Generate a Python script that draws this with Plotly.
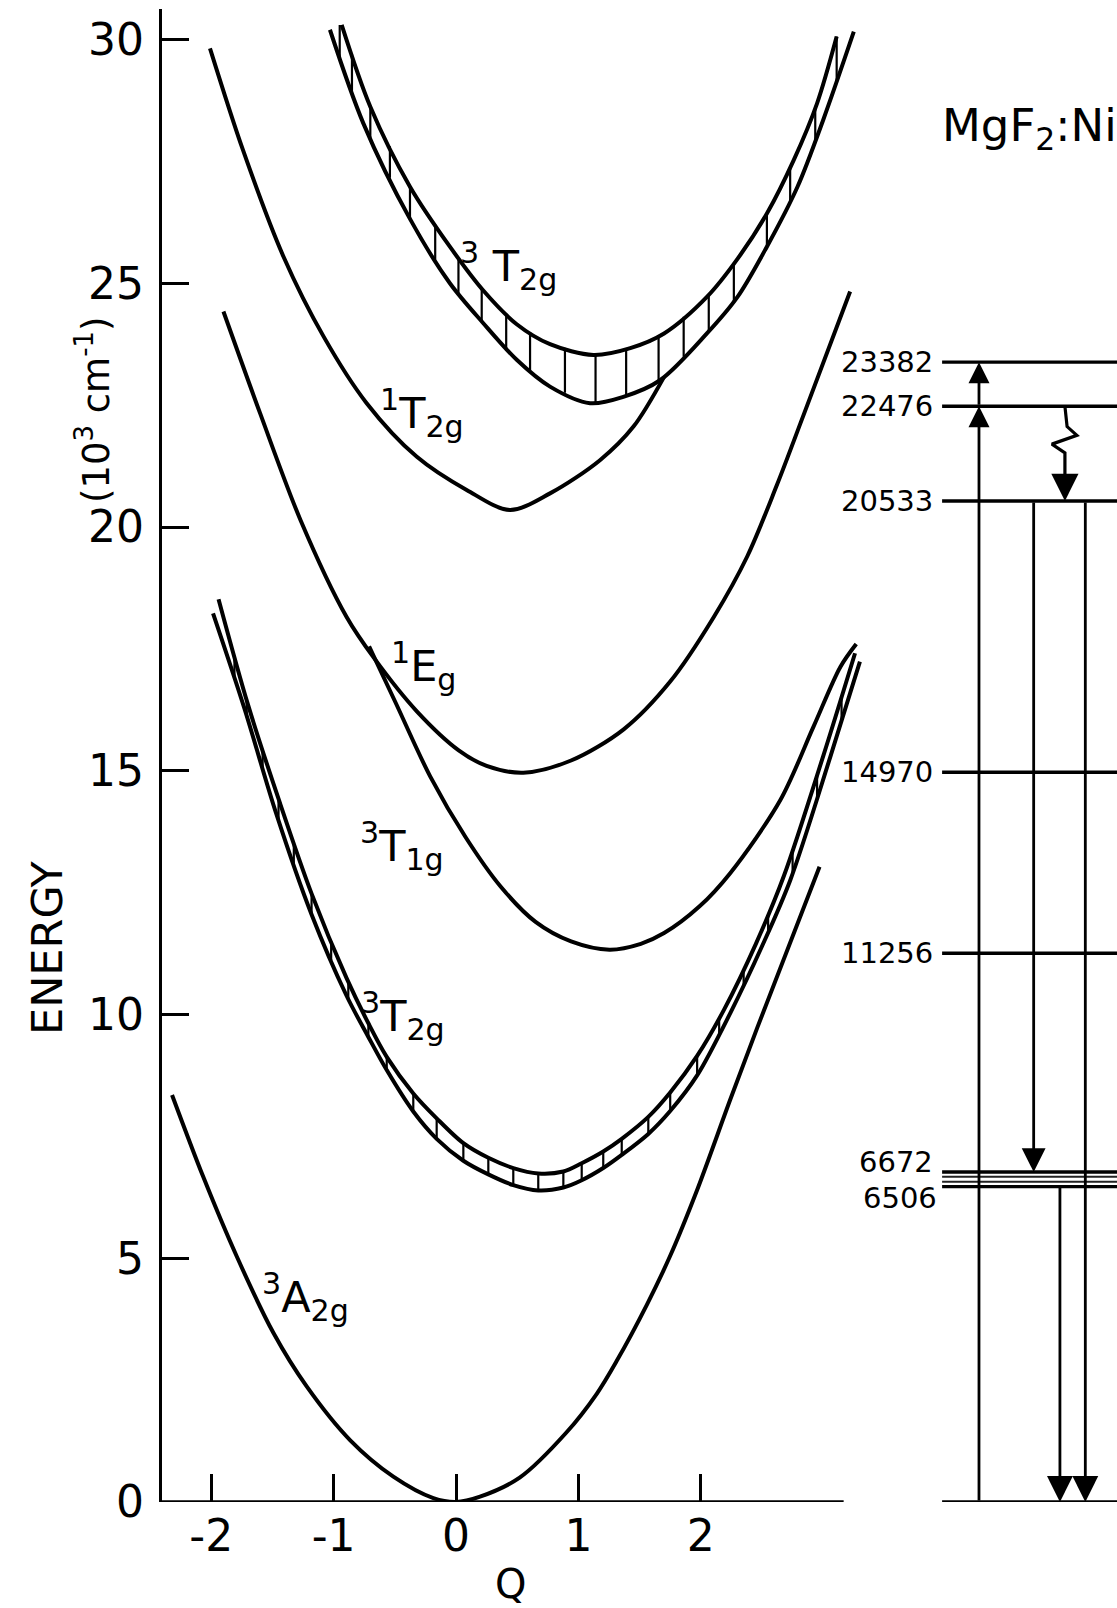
import numpy as np
import plotly.graph_objects as go

FONT = "DejaVu Sans"

# ---------------- data ----------------
q_tick_vals = [-2, -1, 0, 1, 2]
q_tick_text = ["-2", "-1", "0", "1", "2"]
e_tick_vals = [0, 5, 10, 15, 20, 25, 30]
e_tick_text = ["0", "5", "10", "15", "20", "25", "30"]
q_axis_end = 3.167          # where the drawn Q axis stops

# 3A2g ground state
a2g_q = [-2.32, -2.065, -1.79, -1.49, -1.22, -0.866, -0.512, -0.185, 0.0, 0.196, 0.52, 0.90,
         1.15, 1.31, 1.56, 1.75, 1.97, 2.24, 2.46, 2.97]
a2g_e = [8.35, 6.67, 5.03, 3.46, 2.37, 1.27, 0.52, 0.08, 0.0, 0.11, 0.50, 1.42,
         2.22, 2.88, 4.05, 5.05, 6.40, 8.25, 9.72, 13.03]

# lower 3T2g band : upper edge / lower edge
t2l_up_q = [-1.94, -1.70, -1.44, -1.18, -0.895, -0.716, -0.566, -0.349, -0.158, 0.06, 0.264, 0.468,
            0.672, 0.877, 1.027, 1.203, 1.354, 1.571, 1.75, 1.97, 2.19, 2.45, 2.68, 3.00, 3.26]
t2l_up_e = [18.52, 16.36, 14.35, 12.48, 10.75, 9.82, 9.13, 8.38, 7.87, 7.36, 7.06, 6.85,
            6.74, 6.78, 6.95, 7.19, 7.45, 7.90, 8.40, 9.15, 10.10, 11.45, 12.85, 15.30, 17.41]
t2l_lo_q = [-1.985, -1.73, -1.47, -1.18, -0.895, -0.716, -0.566, -0.349, -0.158, 0.06, 0.264, 0.468,
            0.672, 0.877, 1.027, 1.203, 1.354, 1.571, 1.75, 1.97, 2.245, 2.50, 2.73, 3.06, 3.30]
t2l_lo_e = [18.23, 16.29, 14.13, 12.05, 10.39, 9.54, 8.86, 8.01, 7.45, 7.00, 6.72, 6.50,
            6.39, 6.45, 6.60, 6.85, 7.12, 7.55, 8.02, 8.75, 10.05, 11.40, 12.75, 15.30, 17.24]
t2l_hatch_q = [-1.81, -1.71, -1.58, -1.45, -1.325, -1.18, -1.02, -0.88, -0.716, -0.566, -0.349,
               -0.158, 0.06, 0.264, 0.468, 0.672, 0.877, 1.027, 1.203, 1.354, 1.571, 1.75, 1.97,
               2.15, 2.35, 2.55, 2.75, 2.95, 3.15]

# 3T1g
t1g_q = [-0.71, -0.494, -0.21, 0.08, 0.366, 0.65, 0.94, 1.254, 1.51, 1.70, 1.99, 2.24, 2.65,
         2.92, 3.14, 3.27]
t1g_e = [17.55, 16.40, 14.88, 13.63, 12.62, 11.90, 11.50, 11.33, 11.45, 11.67, 12.22, 12.90, 14.40,
         15.90, 17.13, 17.60]

# 1Eg
eg_q = [-1.90, -1.60, -1.27, -0.895, -0.666, -0.32, 0.022, 0.25, 0.55, 0.94, 1.37, 1.75, 2.105,
        2.38, 2.62, 2.84, 3.22]
eg_e = [24.42, 22.33, 20.14, 18.16, 17.30, 16.22, 15.42, 15.10, 14.96, 15.21, 15.85, 16.83, 18.15,
        19.40, 20.85, 22.30, 24.83]

# 1T2g
t2s_q = [-2.01, -1.74, -1.41, -1.08, -0.73, -0.32, 0.087, 0.44, 0.768, 1.176, 1.45, 1.70]
t2s_e = [29.82, 27.73, 25.55, 23.90, 22.54, 21.44, 20.76, 20.35, 20.69, 21.37, 22.06, 23.08]

# upper 3T2g band : upper edge / lower edge
t2u_up_q = [-0.934, -0.70, -0.376, -0.05, 0.223, 0.496, 0.768, 1.122, 1.424, 1.70, 2.05, 2.30,
            2.54, 2.76, 2.95, 3.11]
t2u_up_e = [30.30, 28.62, 26.98, 25.75, 24.85, 24.16, 23.75, 23.53, 23.67, 23.97, 24.72, 25.50,
            26.43, 27.53, 28.69, 30.06]
t2u_lo_q = [-1.03, -0.757, -0.376, -0.05, 0.223, 0.496, 0.768, 1.095, 1.367, 1.667, 2.05, 2.30,
            2.54, 2.79, 3.00, 3.25]
t2u_lo_e = [30.20, 28.28, 26.32, 25.00, 24.18, 23.43, 22.88, 22.54, 22.67, 23.01, 23.97, 24.72,
            25.75, 26.98, 28.35, 30.16]
t2u_hatch_q = [-0.95, -0.85, -0.70, -0.54, -0.376, -0.17, 0.02, 0.21, 0.41, 0.605, 0.89, 1.14,
               1.39, 1.655, 1.86, 2.065, 2.27, 2.54, 2.73, 2.935, 3.11]

# energy-level scheme (10^3 cm^-1)
level_labels = ["23382", "22476", "20533", "14970", "11256"]
level_values = [23.382, 22.476, 20.533, 14.970, 11.256]
cluster_lines = [6.77, 6.67, 6.57, 6.47]          # closely spaced 6672 ... 6506 group as drawn
cluster_labels = ["6672", "6506"]
ground_level = 0.0
wavy_e = [22.476, 22.06, 21.88, 21.70, 21.52, 20.75]   # relaxation 22476 -> 20533

# ---------------- figure ----------------
W, H = 1117, 1608
L, T, B = 162, 9, 106
PW, PH = W - L, H - T - B
PXU = 122.4                  # pixels per Q unit
QMIN, QMAX = -2.402, 3.45


def px(X):
    return (X - L) / PW


def py(Y):
    return (H - B - Y) / PH


fig = go.Figure()

CW = 4.0


def curve(q, e, width=CW):
    fig.add_trace(go.Scatter(x=q, y=e, mode="lines", hoverinfo="skip", showlegend=False,
                             line=dict(color="black", width=width, shape="spline", smoothing=0.9)))


def hatch(hq, uq, ue, lq, le):
    xs, ys = [], []
    for q in hq:
        top = float(np.interp(q, uq, ue))
        bot = float(np.interp(q, lq, le))
        xs += [q, q, None]
        ys += [bot, top, None]
    fig.add_trace(go.Scatter(x=xs, y=ys, mode="lines", hoverinfo="skip", showlegend=False,
                             line=dict(color="black", width=2.2)))


curve(a2g_q, a2g_e)
curve(t2l_up_q, t2l_up_e)
curve(t2l_lo_q, t2l_lo_e)
hatch(t2l_hatch_q, t2l_up_q, t2l_up_e, t2l_lo_q, t2l_lo_e)
curve(t1g_q, t1g_e)
curve(eg_q, eg_e)
curve(t2s_q, t2s_e)
curve(t2u_up_q, t2u_up_e)
curve(t2u_lo_q, t2u_lo_e)
hatch(t2u_hatch_q, t2u_up_q, t2u_up_e, t2u_lo_q, t2u_lo_e)

# level lines on the right-hand scheme (x2 axis: 0..1 across the scheme)
LX0, LX1 = 0.194, 1.0
xs, ys = [], []
for v in level_values + [cluster_lines[0], cluster_lines[-1], ground_level]:
    xs += [LX0, LX1, None]
    ys += [v, v, None]
fig.add_trace(go.Scatter(x=xs, y=ys, xaxis="x2", yaxis="y", mode="lines", hoverinfo="skip",
                         showlegend=False, line=dict(color="black", width=3.4)))
xs, ys = [], []
for v in cluster_lines[1:-1]:
    xs += [LX0, LX1, None]
    ys += [v, v, None]
fig.add_trace(go.Scatter(x=xs, y=ys, xaxis="x2", yaxis="y", mode="lines", hoverinfo="skip",
                         showlegend=False, line=dict(color="#222", width=2)))

# wavy non-radiative relaxation
wavy_u = [0.760, 0.770, 0.815, 0.700, 0.760, 0.760]
fig.add_trace(go.Scatter(x=wavy_u, y=wavy_e, xaxis="x2", yaxis="y", mode="lines",
                         hoverinfo="skip", showlegend=False,
                         line=dict(color="black", width=3.2)))

annotations = []


def arrow(u, e0, e1, size=1.6, width=2.8):
    annotations.append(dict(xref="x2", yref="y", axref="x2", ayref="y", x=u, y=e1, ax=u, ay=e0,
                            text="", showarrow=True, arrowhead=2, arrowsize=size,
                            arrowwidth=width, arrowcolor="black", standoff=0, startstandoff=0))


arrow(0.364, ground_level, level_values[1], size=1.5)
arrow(0.364, level_values[1], level_values[0], size=1.5)
arrow(0.760, wavy_e[-1], level_values[2], size=1.7, width=3.2)
arrow(0.616, level_values[2], cluster_lines[0], size=1.7)
arrow(0.854, level_values[2], ground_level, size=1.85)
arrow(0.737, cluster_lines[-1], ground_level, size=1.85)

LF = 29
for lab, v in zip(level_labels, level_values):
    annotations.append(dict(xref="x2", yref="y", x=0.162, y=v, xanchor="right", yanchor="middle",
                            text=lab, showarrow=False, font=dict(size=LF)))
annotations.append(dict(xref="x2", yref="y", x=0.162, y=6.98, xanchor="right", yanchor="middle",
                        text=cluster_labels[0], showarrow=False, font=dict(size=LF)))
annotations.append(dict(xref="x2", yref="y", x=0.182, y=6.24, xanchor="right", yanchor="middle",
                        text=cluster_labels[1], showarrow=False, font=dict(size=LF)))

# state labels
SL = 43
state_labels = [
    ("<sup>3</sup> T<sub>2g</sub>", 0.02, 25.35),
    ("<sup>1</sup>T<sub>2g</sub>", -0.64, 22.34),
    ("<sup>1</sup>E<sub>g</sub>", -0.55, 17.15),
    ("<sup>3</sup>T<sub>1g</sub>", -0.80, 13.45),
    ("<sup>3</sup>T<sub>2g</sub>", -0.79, 9.96),
    ("<sup>3</sup>A<sub>2g</sub>", -1.60, 4.20),
]
for txt, q, e in state_labels:
    annotations.append(dict(xref="x", yref="y", x=q, y=e, xanchor="left", yanchor="middle",
                            text=txt, showarrow=False, font=dict(size=SL)))

annotations += [
    dict(xref="paper", yref="paper", x=px(940), y=py(128), xanchor="left", yanchor="middle",
         text="MgF<sub>2</sub>:Ni", showarrow=False, font=dict(size=45)),
    dict(xref="paper", yref="paper", x=px(47), y=py(948), xanchor="center", yanchor="middle",
         text="ENERGY", textangle=-90, showarrow=False, font=dict(size=43)),
    dict(xref="paper", yref="paper", x=px(94), y=py(410), xanchor="center", yanchor="middle",
         text="(10<sup>3</sup> cm<sup>-1</sup>)", textangle=-90, showarrow=False,
         font=dict(size=37)),
    dict(xref="paper", yref="paper", x=px(510), y=py(1584), xanchor="center", yanchor="middle",
         text="Q", showarrow=False, font=dict(size=40)),
]

fig.update_layout(
    width=W, height=H, template="none",
    margin=dict(l=L, r=0, t=T, b=B, pad=0, autoexpand=False),
    paper_bgcolor="white", plot_bgcolor="white", showlegend=False,
    font=dict(family=FONT, color="black"),
    xaxis=dict(domain=[0, (QMAX - QMIN) * PXU / PW], range=[QMIN, QMAX], tickmode="array",
               tickvals=q_tick_vals, ticktext=q_tick_text, ticks="inside", ticklen=28,
               tickwidth=3.2, tickcolor="black", showline=False,
               showgrid=False, zeroline=False, tickfont=dict(size=44), automargin=False,
               ticklabelstandoff=4),
    xaxis2=dict(domain=[(900 - L) / PW, 1.0], range=[0, 1], visible=False, anchor="y"),
    yaxis=dict(range=[0, PH / 48.75], tickmode="array", tickvals=e_tick_vals,
               ticktext=e_tick_text, ticks="inside", ticklen=27, tickwidth=3.2,
               tickcolor="black", showline=True, linewidth=3.4, linecolor="black",
               showgrid=False, zeroline=False, tickfont=dict(size=44), automargin=False,
               ticklabelstandoff=6),
    shapes=[dict(type="line", xref="x", yref="y", x0=QMIN, x1=q_axis_end, y0=0, y1=0,
                 line=dict(color="black", width=3.4), layer="above")],
    annotations=annotations,
)

fig.write_html("out.html")
